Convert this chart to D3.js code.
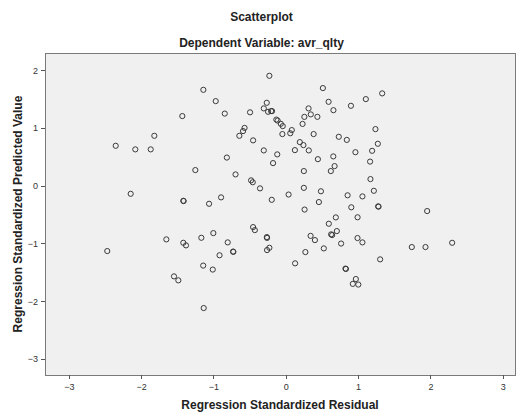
<!DOCTYPE html>
<html>
<head>
<meta charset="utf-8">
<script src="https://cdn.jsdelivr.net/npm/d3@7"></script>
<style>
  body { margin: 0; background: #fff; }
  svg text { font-family: "Liberation Sans", Arial, sans-serif; }
</style>
</head>
<body>
<div id="chart"></div>
<script>
// residual (x) and predicted (y), standardized
var residual = [
  -1.140, -1.431, -1.818, -2.352, -2.081, -1.868, -0.227, -0.969, -0.844, -0.494,
  -0.263, -0.304, -0.245, -0.203, -0.190, -0.131, -0.113, -0.069, -0.042, -0.047,
   0.062,  0.083, -0.570, -0.591, -0.642, -0.452, -0.304, -0.118, -0.176, -0.815,
   0.315,  0.257,  0.346,  0.437,  0.232,  0.513,  0.592,  0.659,  0.901,  0.385,
   0.733,  0.844,  0.963,  0.194,  0.244,  0.318,  0.126,  0.444,  0.657,  0.675,
   0.623,  0.250, -0.695, -0.480, -0.457, -0.356, -0.194,  0.039,  0.250,  0.486,
   0.458,  0.260, -0.895, -1.061,  0.855,  0.906,  0.993,  0.692,  0.595,  0.706,
   0.641,  0.627,  0.765,  0.526,  0.343,  0.403,  0.271,  0.129, -0.452, -0.428,
  -0.262, -0.259, -0.227, -0.259, -1.002, -0.803, -0.729, -0.725, -0.916, -1.168,
  -1.142, -1.010,  0.825,  0.832,  0.992,  1.060,  1.166,  1.171,  1.218,  1.060,
   1.277,  1.283,  1.955,  1.743,  1.932,  2.301,  1.305,  1.333,  1.107,  1.240,
   1.273,  1.194, -1.251, -2.145, -1.417, -1.413, -1.652, -1.417, -1.380, -2.469,
  -1.546, -1.486, -1.135,  0.969,  0.927,  1.003
]
var predicted = [
   1.662,  1.207,  0.865,  0.692,  0.630,  0.630,  1.905,  1.466,  1.250,  1.272,
   1.437,  1.340,  1.281,  1.293,  1.293,  1.146,  1.129,  1.073,  1.033,  0.895,
   0.909,  0.964,  1.002,  0.947,  0.865,  0.786,  0.612,  0.543,  0.392,  0.488,
   1.340,  1.193,  1.236,  1.194,  1.071,  1.692,  1.454,  1.309,  1.385,  0.895,
   0.848,  0.794,  0.581,  0.756,  0.704,  0.612,  0.617,  0.460,  0.508,  0.340,
   0.254,  0.254,  0.196,  0.093,  0.060, -0.046, -0.244, -0.153, -0.037, -0.096,
  -0.283, -0.413, -0.202, -0.313, -0.166, -0.374, -0.547, -0.549, -0.659, -0.786,
  -0.855, -0.843, -1.002, -1.086, -0.869, -0.942, -1.150, -1.345, -0.717, -0.769,
  -0.890, -0.904, -1.075, -1.115, -0.821, -0.982, -1.141, -1.146, -1.205, -0.902,
  -1.384, -1.453, -1.436, -1.442, -0.907, -0.982,  0.418,  0.115, -0.088, -0.185,
  -0.358, -0.363, -0.439, -1.063, -1.063, -0.989, -1.276,  1.600,  1.501,  0.981,
   0.727,  0.605,  0.271, -0.140, -0.261, -0.266, -0.930, -0.989, -1.034, -1.132,
  -1.571, -1.640, -2.120, -1.617, -1.701, -1.713
]
var xTicks = [-3, -2, -1, 0, 1, 2, 3]
var yTicks = [-3, -2, -1, 0, 1, 2]

var points = residual.map(function(d, i) { return {x: d, y: predicted[i]} })

var width = 523, height = 416
var margin = {top: 53, right: 8, bottom: 41, left: 45}

var svg = d3.select("#chart").append("svg")
    .attr("width", width)
    .attr("height", height)

var x = d3.scaleLinear().domain([-3.33, 3.17]).range([margin.left, width - margin.right])
var y = d3.scaleLinear().domain([-3.28, 2.30]).range([height - margin.bottom, margin.top])

svg.append("rect")
    .attr("x", margin.left)
    .attr("y", margin.top)
    .attr("width", width - margin.left - margin.right)
    .attr("height", height - margin.top - margin.bottom)
    .attr("fill", "#f0f0f0")
    .attr("stroke", "#7a7a7a")
    .attr("stroke-width", 1)
    .attr("shape-rendering", "crispEdges")

var xAxis = svg.append("g")
    .attr("transform", "translate(0," + (height - margin.bottom) + ")")
    .call(d3.axisBottom(x).tickValues(xTicks).tickSize(4).tickSizeOuter(0).tickFormat(d3.format("d")))
var yAxis = svg.append("g")
    .attr("transform", "translate(" + margin.left + ",0)")
    .call(d3.axisLeft(y).tickValues(yTicks).tickSize(4).tickSizeOuter(0).tickFormat(d3.format("d")))

;[xAxis, yAxis].forEach(function(a) {
  a.select(".domain").attr("stroke", "#7a7a7a").attr("shape-rendering", "crispEdges")
  a.selectAll(".tick line").attr("stroke", "#555").attr("shape-rendering", "crispEdges")
  a.selectAll(".tick text").attr("fill", "#333").style("font-size", "9px")
})
xAxis.selectAll(".tick text").attr("dy", "0.9em")

svg.append("g").selectAll("circle")
    .data(points)
    .enter().append("circle")
    .attr("cx", function(d) { return x(d.x) })
    .attr("cy", function(d) { return y(d.y) })
    .attr("r", 2.6)
    .attr("fill", "none")
    .attr("stroke", "#3a3a3a")
    .attr("stroke-width", 1)

svg.append("text")
    .attr("x", width / 2)
    .attr("y", 21)
    .attr("text-anchor", "middle")
    .attr("font-weight", "bold")
    .attr("font-size", "12px")
    .attr("fill", "#222")
    .text("Scatterplot")

svg.append("text")
    .attr("x", width / 2)
    .attr("y", 47)
    .attr("text-anchor", "middle")
    .attr("font-weight", "bold")
    .attr("font-size", "12px")
    .attr("fill", "#222")
    .text("Dependent Variable: avr_qlty")

svg.append("text")
    .attr("x", (margin.left + width - margin.right) / 2)
    .attr("y", 409)
    .attr("text-anchor", "middle")
    .attr("font-weight", "bold")
    .attr("font-size", "12px")
    .attr("fill", "#222")
    .text("Regression Standardized Residual")

svg.append("text")
    .attr("transform", "translate(22," + ((margin.top + height - margin.bottom) / 2) + ") rotate(-90)")
    .attr("text-anchor", "middle")
    .attr("font-weight", "bold")
    .attr("font-size", "12px")
    .attr("fill", "#222")
    .text("Regression Standardized Predicted Value")
</script>
</body>
</html>
